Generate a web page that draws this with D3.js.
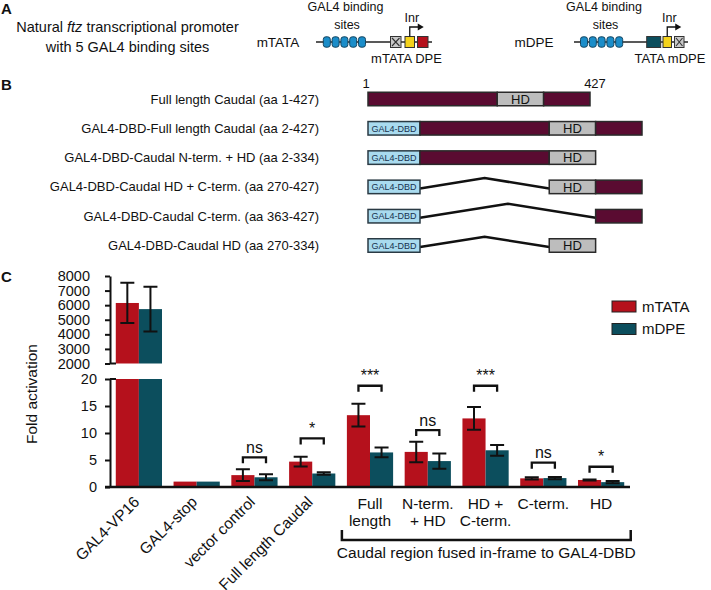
<!DOCTYPE html>
<html><head><meta charset="utf-8">
<script src="https://cdn.jsdelivr.net/npm/d3@7"></script>
<style>
body{margin:0;background:#fff}
svg{display:block}
text{font-family:"Liberation Sans",Arial,Helvetica,sans-serif;fill:#111}
</style>
</head><body>
<svg id="fig" width="711" height="590"></svg>
<script>
// ================= DATA =================
// Panel C
const categories = ["GAL4-VP16","GAL4-stop","vector control","Full length Caudal","Full length","N-term. + HD","HD + C-term.","C-term.","HD"];
const seriesNames = ["mTATA","mDPE"];
const mTATA    = [6150, 1, 2.2, 4.7, 13.3, 6.5, 12.7, 1.6, 1.3];
const mTATAerr = [1380, 0, 1.1, 0.9, 2.1, 1.9, 2.1, 0.2, 0.1];
const mDPE     = [5730, 1, 1.8, 2.5, 6.4, 4.8, 6.8, 1.65, 0.9];
const mDPEerr  = [1530, 0, 0.55, 0.25, 0.9, 1.4, 1.0, 0.2, 0.2];
const sigLabels  = ["", "", "ns", "*", "***", "ns", "***", "ns", "*"];
const sigHeights = [null, null, 5.5, 9.0, 18.75, 10.55, 18.75, 4.5, 3.75];
const upperTicks = [2000, 3000, 4000, 5000, 6000, 7000, 8000];
const lowerTicks = [0, 5, 10, 15, 20];
const xLabelLines = [["GAL4-VP16"],["GAL4-stop"],["vector control"],["Full length Caudal"],["Full","length"],["N-term.","+ HD"],["HD +","C-term."],["C-term."],["HD"]];
const xLabelRotated = [true, true, true, true, false, false, false, false, false];
const fusedGroup = ["Full length","N-term. + HD","HD + C-term.","C-term.","HD"];
const fusedLabel = "Caudal region fused in-frame to GAL4-DBD";
const yLabel = "Fold activation";

// Panel B
const constructLabels = [
  "Full length Caudal (aa 1-427)",
  "GAL4-DBD-Full length Caudal (aa 2-427)",
  "GAL4-DBD-Caudal N-term. + HD (aa 2-334)",
  "GAL4-DBD-Caudal HD + C-term. (aa 270-427)",
  "GAL4-DBD-Caudal C-term. (aa 363-427)",
  "GAL4-DBD-Caudal HD (aa 270-334)"
];
const constructHasDBD = [false, true, true, true, true, true];
// schematic segments in drawn amino-acid coordinates [type, start, end]
const constructSegments = [
  [["body",1,249],["HD",249,338],["body",338,427]],
  [["body",1,249],["HD",249,338],["body",338,427]],
  [["body",1,249],["HD",249,338]],
  [["HD",249,338],["body",338,427]],
  [["body",338,427]],
  [["HD",249,338]]
];
const caudalEnds = [1, 427];

// Panel A
const promoterNames = ["mTATA","mDPE"];
const promoterSites = [5, 5];
const promoterCore = [["mutTATA","Inr","DPE"],["TATA","Inr","mutDPE"]];
const promoterBelow = ["mTATA DPE","TATA mDPE"];

// ================= DRAW =================
const svg = d3.select("#fig");
const FONT = '"Liberation Sans",Arial,sans-serif';
const RED = "#b5111c", TEAL = "#0c4e5d", MAROON = "#5a0b31", HDGRAY = "#bdbdbd", DBDBLUE = "#a9dbef";
const colorOf = {mTATA: RED, mDPE: TEAL};

// panel letters
[["A",13.5],["B",90],["C",282]].forEach(([t,y]) => {
  svg.append("text").attr("x",1).attr("y",y).attr("font-size",15).attr("font-weight","bold").text(t);
});

// ---------- Panel A ----------
svg.append("text").attr("x",127.5).attr("y",31.5).attr("text-anchor","middle").attr("font-size",14.5)
  .call(t => { t.append("tspan").text("Natural "); t.append("tspan").attr("font-style","italic").text("ftz");
               t.append("tspan").text(" transcriptional promoter"); });
svg.append("text").attr("x",127.5).attr("y",52).attr("text-anchor","middle").attr("font-size",14.5)
  .text("with 5 GAL4 binding sites");

const promLayout = [
  {label:[278,42], x0:316, len:116, sites:[323.3, 8.8, 7], core:[[390.5,10.5],[405,9.5],[417.5,10.5]], top:345.5, below:406.5},
  {label:[534,42], x0:574, len:114, sites:[580.5, 8.8, 7], core:[[646.7,14],[663,8.5],[674.5,9.5]], top:604, below:670}
];
const coreFill = {mutTATA:"#c9c9c9", Inr:"#f4d21c", DPE:RED, TATA:TEAL, mutDPE:"#c9c9c9"};
const lineY = 42;
promoterNames.forEach((name, pi) => {
  const L = promLayout[pi];
  const g = svg.append("g");
  g.append("text").attr("x",L.label[0]).attr("y",L.label[1]).attr("dy","0.35em").attr("text-anchor","middle")
    .attr("font-size",13.5).text(name);
  g.append("line").attr("x1",L.x0).attr("x2",L.x0+L.len).attr("y1",lineY).attr("y2",lineY)
    .attr("stroke","#222").attr("stroke-width",1.6);
  const siteIdx = d3.range(promoterSites[pi]);
  g.selectAll("rect.site").data(siteIdx).join("rect").attr("class","site")
    .attr("x", d => L.sites[0] + d*L.sites[1]).attr("y", lineY-5.2).attr("width",L.sites[2]).attr("height",10.4)
    .attr("rx",2.6).attr("fill","#1b8dc9").attr("stroke","#16455f").attr("stroke-width",1);
  promoterCore[pi].forEach((type, k) => {
    const [bx,bw] = L.core[k];
    g.append("rect").attr("x",bx).attr("y",lineY-5.5).attr("width",bw).attr("height",11)
      .attr("fill",coreFill[type]).attr("stroke","#333").attr("stroke-width",1);
    if (type.startsWith("mut")) {
      g.append("path").attr("d",`M${bx+1.5},${lineY-4}L${bx+bw-1.5},${lineY+4}M${bx+bw-1.5},${lineY-4}L${bx+1.5},${lineY+4}`)
        .attr("stroke","#333").attr("stroke-width",1.1);
    }
    if (type === "Inr") {
      const cx = bx + bw/2;
      g.append("path").attr("d",`M${cx},${lineY-5.5}V27H${cx+9}`).attr("fill","none").attr("stroke","#111").attr("stroke-width",1.3);
      g.append("path").attr("d",`M${cx+14},27L${cx+8},23.5L${cx+8},30.5Z`).attr("fill","#111");
      g.append("text").attr("x",cx+2).attr("y",21.5).attr("text-anchor","middle").attr("font-size",12.5).text("Inr");
    }
  });
  g.append("text").attr("x",L.top).attr("y",11).attr("text-anchor","middle").attr("font-size",12.5).text("GAL4 binding");
  g.append("text").attr("x",L.top+1.5).attr("y",28.5).attr("text-anchor","middle").attr("font-size",12.5).text("sites");
  g.append("text").attr("x",L.below).attr("y",62.5).attr("text-anchor","middle").attr("font-size",13).text(promoterBelow[pi]);
});

// ---------- Panel B ----------
const aa = d3.scaleLinear().domain(caudalEnds).range([0,222]);
const rowY = d3.scalePoint().domain(constructLabels).range([99,245.5]);
const rowH = 13.5, bx0 = 368, dbdW = 52;
svg.append("text").attr("x",bx0-2).attr("y",88).attr("text-anchor","middle").attr("font-size",13).text(caudalEnds[0]);
svg.append("text").attr("x",bx0+aa(caudalEnds[1])+5).attr("y",88).attr("text-anchor","middle").attr("font-size",13).text(caudalEnds[1]);
constructLabels.forEach((lab, i) => {
  const y = rowY(lab);
  const g = svg.append("g");
  g.append("text").attr("x",319).attr("y",y).attr("dy","0.35em").attr("text-anchor","end").attr("font-size",13).text(lab);
  const start = constructHasDBD[i] ? bx0 + dbdW : bx0;
  const segs = constructSegments[i];
  if (constructHasDBD[i]) {
    const firstX = start + aa(segs[0][1]);
    if (firstX - start > 2) {
      const span = firstX - start;
      const ey = y + 1.5;
      g.append("path").attr("d",`M${start},${ey}L${(start+firstX)/2},${ey - span*0.08}L${firstX},${ey}`)
        .attr("fill","none").attr("stroke","#111").attr("stroke-width",2.5);
    }
    g.append("rect").attr("x",bx0).attr("y",y-rowH/2).attr("width",dbdW).attr("height",rowH)
      .attr("fill",DBDBLUE).attr("stroke","#2a3a44").attr("stroke-width",1.5);
    g.append("text").attr("x",bx0+dbdW/2).attr("y",y).attr("dy","0.36em").attr("text-anchor","middle")
      .attr("font-size",9).style("fill","#17324f").text("GAL4-DBD");
  }
  segs.forEach(([type,a0,a1]) => {
    const x0 = start + aa(a0), x1 = start + aa(a1);
    g.append("rect").attr("x",x0).attr("y",y-rowH/2).attr("width",x1-x0).attr("height",rowH)
      .attr("fill", type==="HD" ? HDGRAY : MAROON).attr("stroke","#2a2a2a").attr("stroke-width",1.5);
    if (type==="HD") g.append("text").attr("x",(x0+x1)/2).attr("y",y).attr("dy","0.36em").attr("text-anchor","middle")
      .attr("font-size",13).text("HD");
  });
});

// ---------- Panel C ----------
const x = d3.scaleBand().domain(categories).range([110,630]).paddingInner(0.2).paddingOuter(0.1);
const xs = d3.scaleBand().domain(seriesNames).range([0, x.bandwidth()]);
const yLow = d3.scaleLinear().domain([0,20]).range([487,379]);
const yUp = d3.scaleLinear().domain([2000,8000]).range([363.5,276]);
const axisX = 110;

const rows = categories.map((c,i) => ({cat:c, i, vals:[
  {s:"mTATA", v:mTATA[i], e:mTATAerr[i]}, {s:"mDPE", v:mDPE[i], e:mDPEerr[i]}]}));

const barsG = svg.append("g");
rows.forEach(r => {
  r.vals.forEach(d => {
    const bx = x(r.cat) + xs(d.s), bw = xs.bandwidth(), cx = bx + bw/2;
    const big = d.v > yLow.domain()[1];
    const ylo = big ? yLow(yLow.domain()[1]) : yLow(d.v);
    barsG.append("rect").attr("x",bx).attr("y",ylo).attr("width",bw).attr("height",yLow(0)-ylo).attr("fill",colorOf[d.s]);
    if (big) {
      barsG.append("rect").attr("x",bx).attr("y",yUp(d.v)).attr("width",bw).attr("height",yUp(2000)-yUp(d.v)).attr("fill",colorOf[d.s]);
    }
    if (d.e > 0) {
      const ys = big ? yUp : yLow;
      const t = ys(d.v + d.e), b = ys(d.v - d.e);
      barsG.append("path").attr("d",`M${cx},${t}V${b}M${cx-7},${t}H${cx+7}M${cx-7},${b}H${cx+7}`)
        .attr("stroke","#111").attr("stroke-width",2).attr("fill","none");
    }
  });
  // significance
  if (sigLabels[r.i]) {
    const x1 = x(r.cat) + xs("mTATA") + xs.bandwidth()/2;
    const x2 = x(r.cat) + xs("mDPE") + xs.bandwidth()/2;
    const by = yLow(sigHeights[r.i]);
    barsG.append("path").attr("d",`M${x1},${by+6}V${by}H${x2}V${by+6}`).attr("fill","none")
      .attr("stroke","#111").attr("stroke-width",2.3);
    barsG.append("text").attr("x",(x1+x2)/2).attr("y",by-4.5).attr("text-anchor","middle").attr("font-size",16)
      .text(sigLabels[r.i]);
  }
});

// axes
const styleAxis = g => {
  g.select(".domain").attr("stroke","#111").attr("stroke-width",2);
  g.selectAll(".tick line").attr("stroke","#111").attr("stroke-width",2);
  g.selectAll(".tick text").attr("font-family",FONT).attr("font-size",14.5).attr("fill","#111");
};
svg.append("g").attr("transform",`translate(${axisX},0)`)
  .call(d3.axisLeft(yUp).tickValues(upperTicks).tickSize(5).tickSizeOuter(0).tickPadding(15).tickFormat(d3.format("d")))
  .call(styleAxis);
svg.append("g").attr("transform",`translate(${axisX},0)`)
  .call(d3.axisLeft(yLow).tickValues(lowerTicks).tickSize(5).tickSizeOuter(0).tickPadding(8))
  .call(styleAxis);
// break extensions
[yUp(2000), yLow(20)].forEach(yy => {
  svg.append("line").attr("x1",axisX).attr("x2",axisX+6).attr("y1",yy).attr("y2",yy).attr("stroke","#111").attr("stroke-width",2);
});
// x axis line
svg.append("line").attr("x1",axisX-5).attr("x2",630).attr("y1",yLow(0)).attr("y2",yLow(0)).attr("stroke","#111").attr("stroke-width",2.5);

// x labels
categories.forEach((c,i) => {
  const cx = x(c) + x.bandwidth()/2;
  if (xLabelRotated[i]) {
    svg.append("text").attr("transform",`translate(${cx+1.5},503) rotate(-45)`).attr("text-anchor","end")
      .attr("font-size",15.5).text(xLabelLines[i][0]);
  } else {
    const t = svg.append("text").attr("x",cx).attr("y",508.5).attr("text-anchor","middle").attr("font-size",15.5);
    xLabelLines[i].forEach((ln,k) => t.append("tspan").attr("x",cx).attr("dy", k===0 ? 0 : 17.5).text(ln));
  }
});
// fused group bracket
const gx1 = x(fusedGroup[0]) - 5, gx2 = x(fusedGroup[fusedGroup.length-1]) + x.bandwidth() + 6.5;
svg.append("path").attr("d",`M${gx1},530V540H${gx2}V530`).attr("fill","none").attr("stroke","#111").attr("stroke-width",2.5);
svg.append("text").attr("x",(gx1+gx2)/2).attr("y",557.5).attr("text-anchor","middle").attr("font-size",15.5).text(fusedLabel);

// y label
svg.append("text").attr("transform","translate(37,394) rotate(-90)").attr("text-anchor","middle").attr("font-size",15.5).text(yLabel);

// legend
seriesNames.forEach((s,k) => {
  const ly = 301 + k*22.5;
  svg.append("rect").attr("x",612).attr("y",ly).attr("width",24).attr("height",11).attr("fill",colorOf[s]).attr("stroke","#222").attr("stroke-width",1);
  svg.append("text").attr("x",642).attr("y",ly+5.5).attr("dy","0.36em").attr("font-size",15).text(s);
});
</script>
</body></html>
